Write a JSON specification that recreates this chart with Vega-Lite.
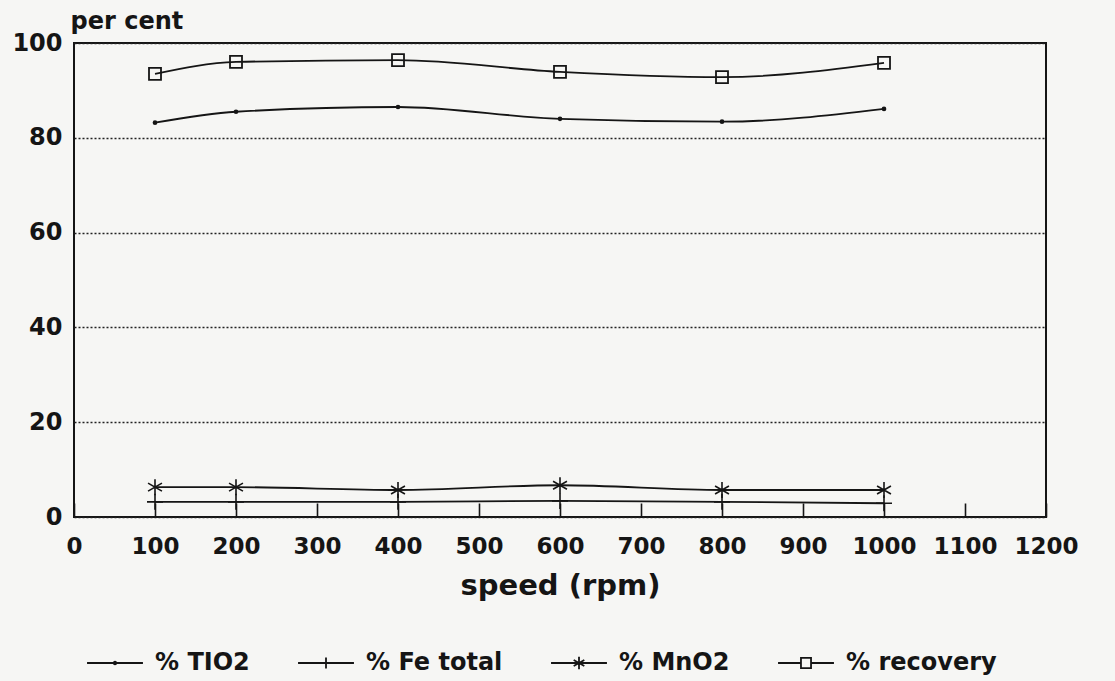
{
  "$schema": "https://vega.github.io/schema/vega-lite/v6.json",
  "width": 972,
  "height": 474,
  "autosize": {"type": "none"},
  "padding": {"left": 74, "top": 43, "right": 69, "bottom": 164},
  "background": "#f6f6f4",
  "config": {
    "view": {"stroke": "#151515", "strokeWidth": 2},
    "font": "DejaVu Sans",
    "axis": {
      "labelFont": "DejaVu Sans",
      "labelFontWeight": "bold",
      "labelColor": "#151515",
      "titleFont": "DejaVu Sans",
      "titleFontWeight": "bold",
      "titleColor": "#151515"
    }
  },
  "data": {
    "values": [
      {"speed": 100, "series": "% TIO2", "value": 83.2},
      {"speed": 200, "series": "% TIO2", "value": 85.5},
      {"speed": 400, "series": "% TIO2", "value": 86.5},
      {"speed": 600, "series": "% TIO2", "value": 84.0},
      {"speed": 800, "series": "% TIO2", "value": 83.4},
      {"speed": 1000, "series": "% TIO2", "value": 86.1},
      {"speed": 100, "series": "% Fe total", "value": 3.2},
      {"speed": 200, "series": "% Fe total", "value": 3.2},
      {"speed": 400, "series": "% Fe total", "value": 3.2},
      {"speed": 600, "series": "% Fe total", "value": 3.4},
      {"speed": 800, "series": "% Fe total", "value": 3.2},
      {"speed": 1000, "series": "% Fe total", "value": 2.9},
      {"speed": 100, "series": "% MnO2", "value": 6.3},
      {"speed": 200, "series": "% MnO2", "value": 6.3},
      {"speed": 400, "series": "% MnO2", "value": 5.7},
      {"speed": 600, "series": "% MnO2", "value": 6.7},
      {"speed": 800, "series": "% MnO2", "value": 5.7},
      {"speed": 1000, "series": "% MnO2", "value": 5.7},
      {"speed": 100, "series": "% recovery", "value": 93.5},
      {"speed": 200, "series": "% recovery", "value": 96.0},
      {"speed": 400, "series": "% recovery", "value": 96.4},
      {"speed": 600, "series": "% recovery", "value": 93.9},
      {"speed": 800, "series": "% recovery", "value": 92.8},
      {"speed": 1000, "series": "% recovery", "value": 95.8}
    ]
  },
  "encoding": {
    "x": {
      "field": "speed",
      "type": "quantitative",
      "scale": {"domain": [0, 1200], "nice": false},
      "axis": {
        "values": [0, 100, 200, 300, 400, 500, 600, 700, 800, 900, 1000, 1100, 1200],
        "format": "d",
        "grid": false,
        "domain": false,
        "tickSize": -14,
        "tickWidth": 1.6,
        "tickColor": "#151515",
        "labelFontSize": 23,
        "labelPadding": 32,
        "labelFlush": false,
        "title": "speed (rpm)",
        "titleFontSize": 29,
        "titlePadding": 13
      }
    },
    "y": {
      "field": "value",
      "type": "quantitative",
      "scale": {"domain": [0, 100], "nice": false},
      "axis": {
        "values": [0, 20, 40, 60, 80, 100],
        "grid": true,
        "gridColor": "#222222",
        "gridDash": [2, 2],
        "gridWidth": 1.5,
        "ticks": false,
        "domain": false,
        "labelFontSize": 24,
        "labelPadding": 12,
        "title": "per cent",
        "titleFontSize": 24,
        "titleAngle": 0,
        "titleAlign": "left",
        "titleBaseline": "alphabetic",
        "titleX": -4,
        "titleY": -15
      }
    }
  },
  "layer": [
    {
      "mark": {"type": "line", "interpolate": "monotone", "strokeWidth": 1.8, "color": "#151515"},
      "encoding": {"detail": {"field": "series", "type": "nominal"}}
    },
    {
      "transform": [{"filter": "datum.series === '% recovery'"}],
      "mark": {"type": "point", "shape": "M-1,-1H1V1H-1Z", "size": 144, "filled": false, "strokeWidth": 1.8, "color": "#151515", "opacity": 1}
    },
    {
      "transform": [{"filter": "datum.series === '% TIO2'"}],
      "mark": {"type": "point", "shape": "circle", "size": 22, "filled": true, "color": "#151515", "opacity": 1}
    },
    {
      "transform": [{"filter": "datum.series === '% MnO2'"}],
      "mark": {"type": "point", "shape": "M0,-1V1M-0.87,-0.5L0.87,0.5M-0.87,0.5L0.87,-0.5", "size": 256, "filled": false, "strokeWidth": 1.6, "color": "#151515", "opacity": 1}
    },
    {
      "transform": [{"filter": "datum.series === '% Fe total'"}],
      "mark": {"type": "point", "shape": "M-1,0H1M0,-1V1", "size": 256, "filled": false, "strokeWidth": 1.6, "color": "#151515", "opacity": 1}
    },
    {
      "mark": {"type": "point", "filled": false, "opacity": 0, "color": "#151515"},
      "encoding": {
        "shape": {
          "field": "series",
          "type": "nominal",
          "scale": {
            "domain": ["% TIO2", "% Fe total", "% MnO2", "% recovery"],
            "range": [
              "M-5,0H5M-0.25,0A0.25,0.25 0 1,0 0.25,0A0.25,0.25 0 1,0 -0.25,0",
              "M-5,0H5M0,-1V1",
              "M-5,0H5M0,-1.1V1.1M-0.95,-0.55L0.95,0.55M-0.95,0.55L0.95,-0.55",
              "M-5,0H-0.9M0.9,0H5M-0.9,-0.9H0.9V0.9H-0.9Z"
            ]
          },
          "legend": {
            "orient": "none",
            "legendX": 29,
            "legendY": 608,
            "direction": "horizontal",
            "title": null,
            "symbolSize": 125,
            "symbolStrokeWidth": 1.8,
            "symbolStrokeColor": "#151515",
            "symbolOpacity": 1,
            "labelFont": "DejaVu Sans",
            "labelFontWeight": "bold",
            "labelFontSize": 24,
            "labelColor": "#151515",
            "labelOffset": 28,
            "labelLimit": 300,
            "columnPadding": 44
          }
        }
      }
    }
  ]
}
